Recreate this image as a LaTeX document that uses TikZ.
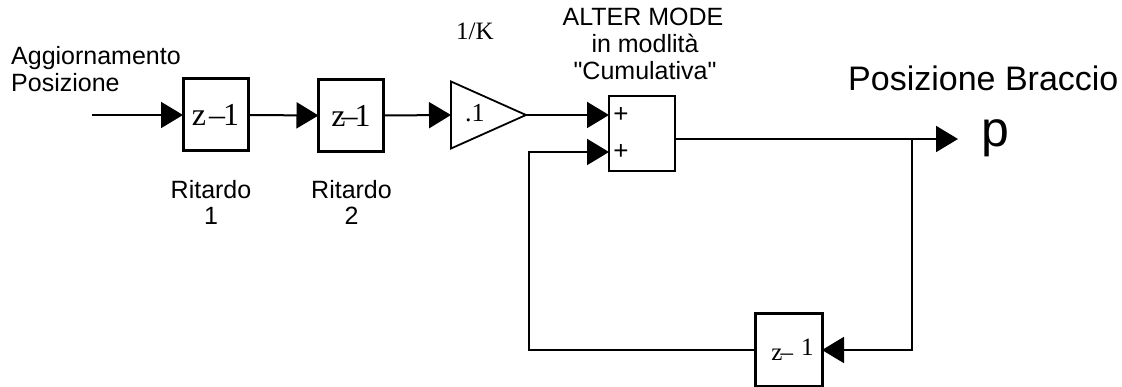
\documentclass[tikz,border=0pt]{standalone}
\usepackage{fontspec}
\newfontfamily\arial{Liberation Sans}
\newfontfamily\tmsfont{Liberation Serif}
\usetikzlibrary{arrows.meta,shapes.geometric}
\tikzset{
  blk/.style={draw, line width=3pt, minimum width=65pt, minimum height=72pt, inner sep=0pt, outer sep=0pt, font=\tmsfont\fontsize{32}{34}\selectfont},
  con/.style={line width=2pt},
  arr/.style={con, -{Triangle[length=22pt,width=26pt]}},
  lbl/.style={font=\arial\fontsize{25}{27}\selectfont, inner sep=0pt},
  plus/.style={font=\arial\fontsize{26}{28}\selectfont, inner sep=0pt}
}
\begin{document}
\begin{tikzpicture}[x=1pt,y=-1pt]
\useasboundingbox (0,0) rectangle (1122,387);
% blocks
\node[blk] (d1) at (215.5,115) {z\kern3pt–\kern-2pt1};
\node[blk] (d2) at (351,115.5) {z\kern-4pt–\kern-3pt1};
\node[draw, isosceles triangle, isosceles triangle stretches, minimum width=67pt, minimum height=75pt, line width=1.8pt, inner sep=0pt, outer sep=0pt, anchor=west] (g) at (451,115) {};
\node[anchor=base west, inner sep=0pt, font=\tmsfont\fontsize{26}{28}\selectfont] (gv) at (465,122) {.1};
\node[draw, line width=2.8pt, minimum width=66pt, minimum height=75pt, inner sep=0pt, outer sep=0pt] (sum) at (642,133.5) {};
\node[plus] (p1) at (621,115) {+};
\node[plus] (p2) at (621,152) {+};
\node[blk, minimum width=67pt, font=\tmsfont\fontsize{25}{27}\selectfont] (d3) at (788.5,350) {\kern8pt z\kern-2pt–\kern8pt\raisebox{5pt}{1}};
% coordinates
\coordinate (in) at (92,115);
\coordinate (fb) at (529,152);
\coordinate (so) at (675,139);
\coordinate (br) at (912,139);
\coordinate (tip) at (958,139);
% connectors
\draw[arr] (in) -- (d1.west);
\draw[arr] (d1.east) -- (d2.west);
\draw[arr] (d2.east) -- (g.west);
\draw[arr] (g.east) -- (sum.west |- g.east);
\draw[arr] (d3.west) -| (fb) -- (sum.west |- fb);
\draw[arr] (so) -- (tip);
\draw[arr] (br) |- (d3.east);
% labels
\node[lbl, anchor=base west] (t1) at (11,65) {Aggiornamento};
\node[lbl, anchor=base west] (t2) at (11,92) {Posizione};
\node[anchor=base west, inner sep=0pt, font=\tmsfont\fontsize{25}{27}\selectfont] (k) at (456,40) {1/K};
\node[lbl, anchor=base] (a1) at (643,26) {ALTER MODE};
\node[lbl, anchor=base] (a2) at (645,53) {in modlità};
\node[lbl, anchor=base] (a3) at (645,80) {"Cumulativa"};
\node[lbl, anchor=base] (r1) at (211,199) {Ritardo};
\node[lbl, anchor=base] (r1n) at (211,225) {1};
\node[lbl, anchor=base] (r2) at (351.5,199) {Ritardo};
\node[lbl, anchor=base] (r2n) at (351.5,225) {2};
\node[anchor=base west, inner sep=0pt, font=\arial\fontsize{34}{36}\selectfont] (pb) at (848,91) {Posizione Braccio};
\node[anchor=base west, inner sep=0pt, font=\arial\fontsize{50}{52}\selectfont] (p) at (981,147) {p};
\end{tikzpicture}
\end{document}
